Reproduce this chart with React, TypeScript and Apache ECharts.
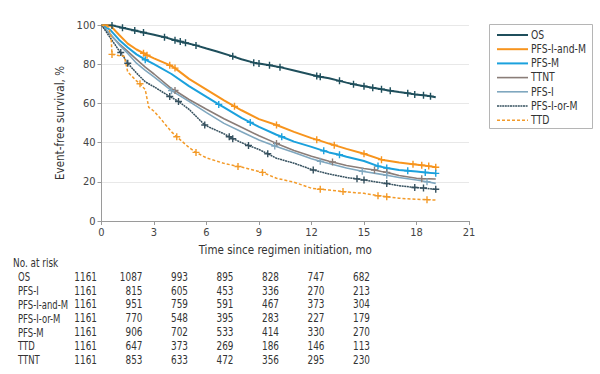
import React, { useEffect, useRef } from "react";
import * as echarts from "echarts";

// [month, survival %, censored flag]
const osData: number[][] = [
  [0, 100], [0.6, 99.8, 1], [1.2, 98.6, 1], [1.9, 97.2, 1], [2.4, 96.2, 1], [3, 95], [3.6, 93.8, 1], [4.2, 92.2, 1], [4.5, 91.6, 1], [4.8, 90.9, 1],
  [5.4, 89.6, 1], [6, 88], [6.6, 86.5], [7.5, 84, 1], [8, 82.5], [8.7, 80.8, 1], [9, 80.3, 1], [9.6, 79.5, 1], [10, 78.8], [10.2, 78.5, 1],
  [11, 76.8], [12, 74.6], [12.3, 74, 1], [12.5, 73.6, 1], [13, 72.8], [13.6, 71.5, 1], [14, 70.6], [14.4, 69.8, 1], [15, 68.8, 1], [15.5, 68, 1],
  [16, 67.2, 1], [16.5, 66.5, 1], [17, 65.8], [17.5, 65.2, 1], [17.9, 64.6, 1], [18.4, 64.1, 1], [18.8, 63.6, 1], [19.1, 63.1],
];
const pfsIandMData: number[][] = [
  [0, 100], [0.5, 99.8], [1, 95], [1.5, 90.5], [2, 87.5], [2.4, 85.6, 1], [2.6, 84.6, 1], [3, 83], [3.9, 79.5, 1], [4.2, 78, 1], [5, 72.5], [6, 67],
  [7, 61.5], [7.6, 58.5, 1], [8, 56.5], [9, 52], [10, 49, 1], [11, 45.5], [12, 42.3], [12.3, 41.5, 1], [13, 39.5], [13.3, 38.7, 1], [14, 36.8],
  [15, 34.3, 1], [16, 31.3, 1], [17, 29.8], [17.8, 29, 1], [18.3, 28.5, 1], [18.7, 28, 1], [19.1, 27.4, 1],
];
const pfsMData: number[][] = [
  [0, 100], [0.5, 97.5], [1, 92.5], [1.5, 88.5], [2, 85], [2.5, 82.3, 1], [3, 80], [4, 75], [5, 68.8], [6, 63.3], [6.7, 59.5, 1], [7, 58],
  [8, 52.6], [8.5, 50.3, 1], [9, 48], [10, 44], [10.3, 43, 1], [11, 40.5], [12, 37.8], [12.7, 35.8, 1], [13, 35], [13.6, 33.8, 1], [14, 32.8],
  [15, 30.6], [15.8, 28, 1], [16.3, 27, 1], [17, 26], [17.5, 25.6, 1], [18, 25.2], [18.5, 24.8, 1], [19.1, 24.3, 1],
];
const ttntData: number[][] = [
  [0, 100], [0.5, 95], [1, 90.5], [1.5, 86.5], [2, 82.5], [2.5, 78.5], [3, 75], [4, 67.5], [4.2, 66.6, 1], [5, 62], [6, 57], [7, 52.2],
  [8, 47.8], [9, 43.5], [10, 39.6, 1], [11, 36], [12, 33], [13, 30.5], [13.2, 30.1, 1], [14, 28.3], [15, 26.8], [15.6, 26, 1], [16, 25.3],
  [16.3, 24.8, 1], [17, 23.2], [18, 21.8], [18.3, 21.6, 1], [19.1, 21.4],
];
const pfsIData: number[][] = [
  [0, 100], [0.5, 95.5], [1, 90], [1.5, 85.5], [2, 80.5], [2.5, 76.8], [3, 73.5], [4, 66.5, 1], [5, 61], [6, 55.3], [7, 49.8], [8, 45.5],
  [9, 41.3], [9.9, 38.3, 1], [11, 35], [12, 31.8], [12.5, 30.5, 1], [13, 29.3], [14, 27], [14.9, 25.4, 1], [16, 23.8], [16.3, 23.3, 1],
  [17, 22.2], [18, 20.9], [18.6, 20, 1], [19.1, 19.2],
];
const pfsIorMData: number[][] = [
  [0, 100], [0.5, 93.5], [1, 87], [1.1, 86, 1], [1.5, 80.5, 1], [2, 75.5], [2.5, 71], [3, 68.5], [3.9, 63.5, 1], [4.4, 61, 1], [5, 57],
  [5.9, 49, 1], [6, 48.5], [7, 44.5], [7.3, 43, 1], [7.5, 42, 1], [8, 40], [8.4, 38.5, 1], [9, 36.5], [9.5, 34.3, 1], [10, 32], [11, 29.5],
  [12, 26.3], [12.1, 26, 1], [13, 24], [14, 22.2], [14.6, 21.5, 1], [15, 20.9, 1], [16, 19.5], [16.3, 19.1, 1], [17, 18], [17.9, 17.1, 1],
  [18.4, 16.8, 1], [19.1, 16.2, 1],
];
const ttdData: number[][] = [
  [0, 100], [0.4, 99], [0.55, 94], [0.6, 85, 1], [1.3, 84], [1.5, 76], [2, 71.5], [2.2, 70, 1], [2.5, 67], [2.7, 58], [3, 56], [3.3, 53],
  [4, 45.5], [4.3, 43, 1], [5, 37.5], [5.4, 35, 1], [6, 32.2], [7, 29.4], [7.8, 27.8, 1], [8, 27.5], [9, 25.2], [9.2, 24.8, 1], [10, 21.8],
  [11, 19.8], [12, 16.7], [12.5, 16.2, 1], [13, 15.8], [13.8, 15, 1], [14, 14.8], [15, 14.1], [15.8, 12.9, 1], [16.3, 12.4, 1], [17, 11.6],
  [18, 11.1], [18.6, 10.9, 1], [19.1, 10.7],
];

const xTicks = [0, 3, 6, 9, 12, 15, 18, 21];

const riskTitle = "No. at risk";
const riskLabels = ["OS", "PFS-I", "PFS-I-and-M", "PFS-I-or-M", "PFS-M", "TTD", "TTNT"];
const riskOS = [1161, 1087, 993, 895, 828, 747, 682];
const riskPFSI = [1161, 815, 605, 453, 336, 270, 213];
const riskPFSIandM = [1161, 951, 759, 591, 467, 373, 304];
const riskPFSIorM = [1161, 770, 548, 395, 283, 227, 179];
const riskPFSM = [1161, 906, 702, 533, 414, 330, 270];
const riskTTD = [1161, 647, 373, 269, 186, 146, 113];
const riskTTNT = [1161, 853, 633, 472, 356, 295, 230];

const FONT = '"DejaVu Sans Condensed", "Liberation Sans", sans-serif';
const PLUS = "path://M4,0H6V4H10V6H6V10H4V6H0V4H4Z";

const seriesDefs = [
  { name: "OS", data: osData, color: "#1f4f5c", type: "solid" as any, width: 2 },
  { name: "PFS-I-and-M", data: pfsIandMData, color: "#f7941d", type: "solid" as any, width: 2 },
  { name: "PFS-M", data: pfsMData, color: "#1ba1dd", type: "solid" as any, width: 2 },
  { name: "TTNT", data: ttntData, color: "#8a7d78", type: "solid" as any, width: 1.6 },
  { name: "PFS-I", data: pfsIData, color: "#7fa7bf", type: "solid" as any, width: 1.6 },
  { name: "PFS-I-or-M", data: pfsIorMData, color: "#36515f", type: [2, 0.6] as any, width: 1.5 },
  { name: "TTD", data: ttdData, color: "#f39a28", type: [3, 2] as any, width: 1.5 },
];

export default function App() {
  const ref = useRef<HTMLDivElement>(null);
  useEffect(() => {
    if (!ref.current) return;
    const chart = echarts.init(ref.current, undefined, { renderer: "svg" });

    const series = seriesDefs.map((d) => ({
      name: d.name,
      type: "line",
      data: d.data,
      showSymbol: true,
      showAllSymbol: true,
      symbol: (v: number[]) => (v[2] ? PLUS : "none"),
      symbolSize: 7,
      itemStyle: { color: d.color },
      lineStyle: { color: d.color, width: d.width, type: d.type },
      emphasis: { disabled: true },
      z: 2,
    }));

    const SX = 0.86;
    const legendTop = 35;
    const legendStep = 14.2;
    const legendChildren: any[] = [
      {
        type: "rect",
        shape: { x: 489.5, y: 24.5, width: 103, height: 104 },
        style: { fill: "#fff", stroke: "#b5b5b5", lineWidth: 1 },
      },
    ];
    seriesDefs.forEach((d, i) => {
      const y = legendTop + i * legendStep;
      legendChildren.push({
        type: "line",
        shape: { x1: 497, y1: y, x2: 528, y2: y },
        style: { stroke: d.color, lineWidth: d.width, lineDash: Array.isArray(d.type) ? d.type : null },
      });
      legendChildren.push({
        type: "text",
        x: 531,
        y: y,
        scaleX: SX,
        style: { text: d.name, font: `12px ${FONT}`, fill: "#333", verticalAlign: "middle", textAlign: "left" },
      });
    });

    const riskRows = [riskOS, riskPFSI, riskPFSIandM, riskPFSIorM, riskPFSM, riskTTD, riskTTNT];
    const tableChildren: any[] = [
      {
        type: "text",
        x: 13,
        y: 263,
        scaleX: SX,
        style: { text: riskTitle, font: `11.5px ${FONT}`, fill: "#333", verticalAlign: "middle" },
      },
    ];
    riskRows.forEach((row, r) => {
      const y = 277 + r * 13.8;
      tableChildren.push({
        type: "text",
        x: 18,
        y,
        scaleX: 0.82,
        style: { text: riskLabels[r], font: `11.5px ${FONT}`, fill: "#333", verticalAlign: "middle" },
      });
      row.forEach((v, c) => {
        tableChildren.push({
          type: "text",
          x: 97 + c * 45.5,
          y,
          scaleX: SX,
          style: { text: String(v), font: `11.5px ${FONT}`, fill: "#333", verticalAlign: "middle", textAlign: "right" },
        });
      });
    });

    chart.setOption({
      animation: false,
      grid: { left: 101.5, right: 131, top: 25, bottom: 153 },
      xAxis: {
        type: "value",
        min: xTicks[0],
        max: xTicks[xTicks.length - 1],
        interval: 3,
        name: "Time since regimen initiation, mo",
        nameLocation: "middle",
        nameGap: 23,
        nameTextStyle: { fontFamily: FONT, fontSize: 11.5, color: "#333" },
        axisLine: { lineStyle: { color: "#9a9a9a", width: 1 } },
        axisTick: { show: true, length: 4, lineStyle: { color: "#9a9a9a" } },
        axisLabel: { fontFamily: FONT, fontSize: 11, color: "#444", margin: 6 },
        splitLine: { show: false },
      },
      yAxis: {
        type: "value",
        min: 0,
        max: 100,
        interval: 20,
        name: "Event-free survival, %",
        nameLocation: "middle",
        nameGap: 19,
        nameRotate: 90,
        nameTextStyle: { fontFamily: FONT, fontSize: 11.5, color: "#333" },
        axisLine: { show: true, lineStyle: { color: "#9a9a9a", width: 1 } },
        axisTick: { show: true, length: 4, lineStyle: { color: "#9a9a9a" } },
        axisLabel: { fontFamily: FONT, fontSize: 11, color: "#444", margin: 6 },
        splitLine: { show: true, lineStyle: { color: "#e8e8e8", width: 1 } },
      },
      series,
      graphic: [
        { type: "group", children: legendChildren },
        { type: "group", children: tableChildren },
      ],
    } as any);

    return () => chart.dispose();
  }, []);

  return (
    <div
      ref={ref}
      style={{ position: "fixed", left: 0, top: 0, width: 600, height: 374, background: "#fff" }}
    />
  );
}
